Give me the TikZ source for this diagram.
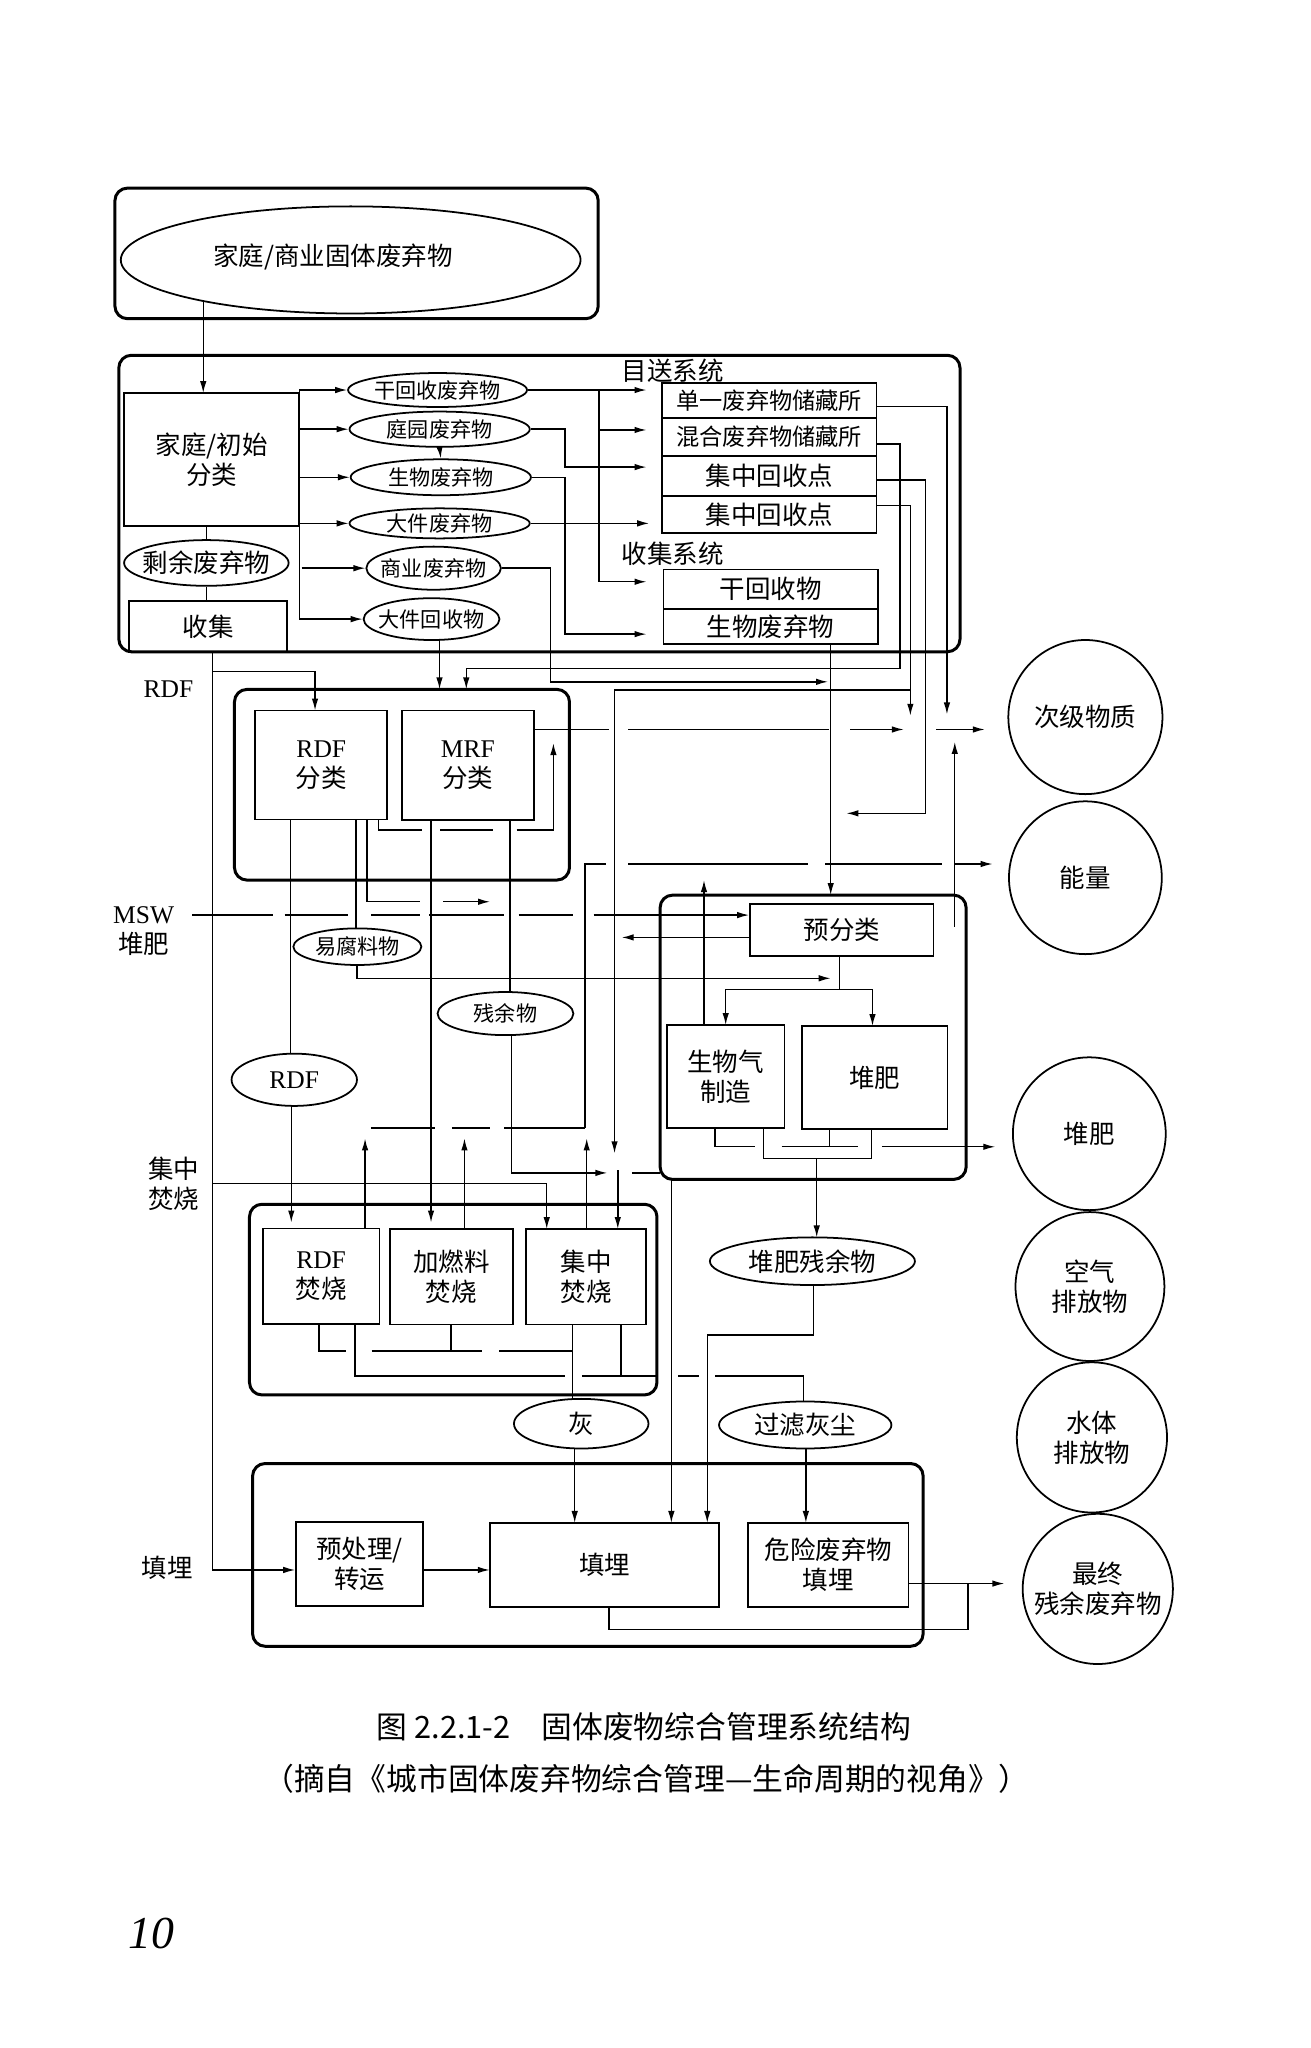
\documentclass[tikz,border=0pt]{standalone}
\usepackage{fontspec}
\setmainfont{Noto Sans CJK SC}
\newfontfamily\lat{Liberation Serif}
\usetikzlibrary{fit,shapes.geometric,arrows.meta}
\def\uu{0.0261cm}
\newcommand\fa{\fontsize{14.5pt}{17pt}\selectfont}
\newcommand\fb{\fontsize{12pt}{14pt}\selectfont}
\newcommand\fs{\fontsize{13.2pt}{15pt}\selectfont}
\newcommand\fcap{\fontsize{17.5pt}{20pt}\selectfont}
\tikzset{
  ln/.style={line width=0.8pt},
  arr/.style={line width=0.8pt,-{Latex[length=2.4mm,width=1.3mm]}},
  bxbase/.style={draw,line width=1pt,inner sep=0pt},
  outer/.style={draw,line width=1.7pt,rounded corners=0.25cm,inner sep=0pt},
  ellbase/.style={draw,ellipse,line width=1pt,inner sep=0pt},
  circ/.style={draw,circle,line width=1pt,inner sep=0pt,align=center,font=\fa},
  lab/.style={font=\fa,align=center,inner sep=0pt}
}
\newcommand\myell[6]{%
  \node[ellbase,minimum width=#3*\uu,minimum height=#4*\uu] (#1) at (#2) {};
  \node[font=#5,inner sep=0pt] (#1-t) at (#1.center) {#6};}
\newcommand\mybox[5]{%
  \node[bxbase,fit={(#2)(#3)}] (#1) {};
  \node[lab,font=#4] (#1-t) at (#1.center) {#5};}
\begin{document}
\begin{tikzpicture}[x=0.0261cm,y=-0.0261cm]
\fill[white] (0,0) rectangle (1003,1568);
\path[use as bounding box] (0,0) rectangle (1003,1568);

% ---------- top source ----------
\node[outer,fit={(88,144)(458,244)}] (topbox) {};
\node[ellbase,minimum width=352*\uu,minimum height=82*\uu] (src) at (268.5,199) {};
\node[lab] (src-t) at (255,197) {家庭/商业固体废弃物};
\draw[arr] (155.6,230.5) -- (155.6,301);

% ---------- separation / collection system ----------
\node[outer,fit={(91,272)(735,499)}] (sysbox) {};
\node[lab] (t1) at (515,284) {目送系统};
\node[lab] (t2) at (515,424) {收集系统};
\mybox{home}{95,301}{229,403}{\fa}{家庭/初始\\分类}
\myell{rest}{158,431}{126}{35}{\fa}{剩余废弃物}
\mybox{coll}{99,460}{220,499}{\fa}{收集}
\draw[ln] (158,403) -- (rest.north);
\draw[ln] (rest.south) -- (158,460);

\myell{e1}{335,298.6}{137}{26}{\fb}{干回收废弃物}
\myell{e2}{336.6,328.6}{138}{27}{\fb}{庭园废弃物}
\myell{e3}{337.5,365.4}{138}{27.5}{\fb}{生物废弃物}
\myell{e4}{336.6,400.7}{138}{23}{\fb}{大件废弃物}
\myell{e5}{332,435}{103}{33}{\fb}{商业废弃物}
\myell{e6}{330.4,474}{104}{32}{\fb}{大件回收物}

\draw[ln] (229.3,298.6) -- (229.3,474.2);
\draw[arr] (229.3,298.6) -- (e1.west);
\draw[arr] (229.3,328.6) -- (e2.west);
\draw[arr] (229.3,365.4) -- (e3.west);
\draw[arr] (229.3,400.7) -- (e4.west);
\draw[arr] (231,435) -- (e5.west);
\draw[arr] (229.3,474) -- (e6.west);
\draw[arr] (e2.south) -- (e3.north);

\mybox{s1}{507,293}{671,320}{\fs}{单一废弃物储藏所}
\mybox{s2}{507,320}{671,349}{\fs}{混合废弃物储藏所}
\mybox{s3}{507,349}{671,380}{\fa}{集中回收点}
\mybox{s4}{507,380}{671,408}{\fa}{集中回收点}
\mybox{c1}{508,436}{672,466}{\fa}{干回收物}
\mybox{c2}{508,466}{672,493}{\fa}{生物废弃物}

\draw[arr] (e1.east) -- (495,298.6);
\draw[ln] (458.6,298.6) -- (458.6,445.4);
\draw[arr] (458.6,329.2) -- (495,329.2);
\draw[arr] (458.6,445.4) -- (495,445.4);
\draw[arr] (e2.east) -- (432.5,328.6) -- (432.5,357.6) -- (495,357.6);
\draw[arr] (e3.east) -- (432.5,365.4) -- (432.5,485.5) -- (495,485.5);
\draw[arr] (e4.east) -- (497,400.7);
\draw[arr] (e5.east) -- (421.5,435) -- (421.5,522) -- (634,522);
\draw[arr] (336.5,489.9) -- (336.5,527.8);

\draw[arr] (671,311) -- (725,311) -- (725,547);
\draw[arr] (671,340) -- (689,340) -- (689,511.7) -- (357,511.7) -- (357,527.8);
\draw[arr] (671,367.5) -- (708.5,367.5) -- (708.5,622.7) -- (648,622.7);
\draw[arr] (671,387) -- (697,387) -- (697,548);
\draw[arr] (697,528.3) -- (470.5,528.3) -- (470.5,883);
\draw[arr] (636,493) -- (636,685.3);

% ---------- RDF / MRF ----------
\node[outer,fit={(179.5,527.8)(436,673.8)}] (mrfbox) {};
\mybox{rdfs}{195.5,544}{296.5,627.5}{\fa}{{\lat RDF}\\分类}
\mybox{mrfs}{307.8,544}{408.6,627.8}{\fa}{{\lat MRF}\\分类}
\draw[arr] (162.7,514.3) -- (241.2,514.3) -- (241.2,544);

\myell{rdfe}{225.3,826.7}{96}{40}{\lat\fa}{RDF}
\myell{yf}{273.6,724.8}{98}{28}{\fb}{易腐料物}
\myell{cy}{387,776}{104}{33}{\fb}{残余物}

\draw[ln] (222.6,627.5) -- (222.6,806.8);
\draw[arr] (223,846.6) -- (223,936);
\draw[ln] (272.6,627.5) -- (272.6,710.9);
\draw[ln] (281,627.5) -- (281,690.4) -- (321.6,690.4);
\draw[arr] (339.5,690.4) -- (375.2,690.4);
\draw[ln] (290,627.5) -- (290,635.5) -- (322.9,635.5);
\draw[ln] (337,635.5) -- (377.8,635.5);
\draw[arr] (395.6,635.5) -- (423.7,635.5) -- (423.7,569);
\draw[arr] (330,627.8) -- (330,936);
\draw[ln] (390.5,627.8) -- (390.5,760);
\draw[arr] (391.5,792) -- (391.5,898) -- (465,898);
\draw[ln] (483.7,898) -- (505.4,898);

% secondary material line
\draw[ln] (408.6,558.5) -- (466,558.5);
\draw[ln] (481,558.5) -- (634.5,558.5);
\draw[arr] (651,558.5) -- (692,558.5);
\draw[arr] (717,558.5) -- (754,558.5);

% energy lines
\draw[arr] (731,709.5) -- (731,568);
\draw[arr] (731,661.5) -- (760,661.5);
\draw[ln] (448,863.5) -- (448,661.5) -- (464,661.5);
\draw[ln] (481,661.5) -- (619,661.5);
\draw[ln] (632,661.5) -- (721,661.5);
\draw[ln] (284,863.5) -- (333,863.5);
\draw[ln] (346,863.5) -- (375,863.5);
\draw[ln] (386,863.5) -- (448,863.5);

% MSW compost line
\draw[ln] (147,700.6) -- (209,700.6);
\draw[ln] (218,700.6) -- (266.6,700.6);
\draw[ln] (284.3,700.6) -- (321.8,700.6);
\draw[ln] (328.5,700.6) -- (385.9,700.6);
\draw[ln] (397,700.6) -- (439,700.6);

% ---------- compost ----------
\node[outer,fit={(505.4,685.3)(739.7,903)}] (cbox) {};
\mybox{pre}{574.3,692}{714.7,731.7}{\fa}{预分类}
\mybox{bio}{510.5,784.8}{600.6,863.4}{\fa}{生物气\\制造}
\mybox{comp}{613.8,785.6}{725.4,864.4}{\fa}{堆肥}
\draw[arr] (454.4,700.6) -- (pre.west |- 0,700.6);
\draw[arr] (574.3,717.7) -- (476,717.7);
\draw[ln] (642.7,731.7) -- (642.7,757.5);
\draw[ln] (555.6,757.5) -- (668,757.5);
\draw[arr] (555.6,757.5) -- (555.6,784.8);
\draw[arr] (668,757.5) -- (668,785.6);
\draw[arr] (273.4,738.8) -- (273.4,749) -- (636,749);
\draw[arr] (539,784.8) -- (539,673.8);
\draw[ln] (547.5,863.4) -- (547.5,878) -- (578.1,878);
\draw[ln] (584.5,863.4) -- (584.5,886.9) -- (667.4,886.9) -- (667.4,864.4);
\draw[ln] (635,864.4) -- (635,878);
\draw[ln] (598.5,878) -- (657.2,878);
\draw[arr] (675.1,878) -- (762,878);
\draw[arr] (625.3,886.9) -- (625.3,947.4);

\myell{dfc}{622,965.6}{157}{36.5}{\fa}{堆肥残余物}

% ---------- incineration ----------
\node[outer,fit={(191,922)(503,1068)}] (ibox) {};
\mybox{i1}{201.2,940.5}{290.5,1013.7}{\fa}{{\lat RDF}\\焚烧}
\mybox{i2}{298.7,941}{392.6,1014}{\fa}{加燃料\\焚烧}
\mybox{i3}{402.8,941}{494.7,1014}{\fa}{集中\\焚烧}
\draw[arr] (162.7,906) -- (418.6,906) -- (418.6,941);
\draw[arr] (473,895.8) -- (473,941);
\draw[arr] (279.5,940.5) -- (279.5,871.6);
\draw[arr] (355.6,941) -- (355.6,871.6);
\draw[arr] (449.2,941) -- (449.2,871.6);
\draw[ln] (244.3,1013.7) -- (244.3,1034.2) -- (265,1034.2);
\draw[ln] (284.6,1034.2) -- (368.9,1034.2);
\draw[ln] (382.4,1034.2) -- (438.5,1034.2);
\draw[ln] (345.4,1014) -- (345.4,1034.2);
\draw[ln] (271.9,1013.7) -- (271.9,1053.6) -- (432.7,1053.6);
\draw[ln] (445.4,1053.6) -- (503,1053.6);
\draw[ln] (475.5,1014) -- (475.5,1053.6);
\draw[ln] (519.4,1053.6) -- (535.5,1053.6);
\draw[ln] (547.5,1053.6) -- (615,1053.6) -- (615,1073);

\myell{hui}{445,1090}{103}{38}{\fa}{灰}
\myell{glhc}{616.5,1091}{132}{36}{\fa}{过滤灰尘}
\draw[ln] (438.5,1014) -- (438.5,1071.2);

% ---------- landfill ----------
\node[outer,fit={(193.4,1120.5)(706.8,1260.4)}] (lbox) {};
\mybox{l1}{226.7,1165.2}{324,1229.7}{\fa}{预处理/\\转运}
\mybox{l2}{375,1166}{550.7,1230.3}{\fa}{填埋}
\mybox{l3}{572.8,1166}{695.6,1230.3}{\fa}{危险废弃物\\填埋}
\draw[arr] (162.7,499) -- (162.7,1202) -- (l1.west |- 0,1202);
\draw[arr] (324,1202) -- (375,1202);
\draw[arr] (440,1109) -- (440,1166);
\draw[arr] (617,1109) -- (617,1166);
\draw[arr] (514,903) -- (514,1166);
\draw[arr] (622.7,983.8) -- (622.7,1022.2) -- (541.5,1022.2) -- (541.5,1166);
\draw[arr] (695.6,1212.4) -- (769,1212.4);
\draw[ln] (466.3,1230.3) -- (466.3,1247.6) -- (741.2,1247.6) -- (741.2,1212.4);

% ---------- outputs ----------
\node[circ,minimum size=118*\uu] (o1) at (831,549) {次级物质};
\node[circ,minimum size=117*\uu] (o2) at (831,672) {能量};
\node[circ,minimum size=117*\uu] (o3) at (834,868) {堆肥};
\node[circ,minimum size=114*\uu] (o4) at (834.5,985) {空气\\排放物};
\node[circ,minimum size=115*\uu] (o5) at (836,1100.5) {水体\\排放物};
\node[circ,minimum size=115*\uu] (o6) at (840.5,1216.5) {最终\\残余废弃物};

% ---------- side labels ----------
\node[lab,font=\lat\fa] (lrdf) at (129,528) {RDF};
\node[lab] (lmsw) at (110,713) {{\lat MSW}\\堆肥};
\node[lab] (ljz) at (133,906) {集中\\焚烧};
\node[lab] (ltm) at (128,1200) {填埋};

% ---------- caption ----------
\node[font=\fcap] (cap1) at (493,1322) {图 2.2.1-2\quad 固体废物综合管理系统结构};
\node[font=\fcap] (cap2) at (495,1361.5) {（摘自《城市固体废弃物综合管理—生命周期的视角》）};
\node[font=\lat\itshape\fontsize{26pt}{28pt}\selectfont] (pg) at (116,1480) {10};
\end{tikzpicture}
\end{document}
